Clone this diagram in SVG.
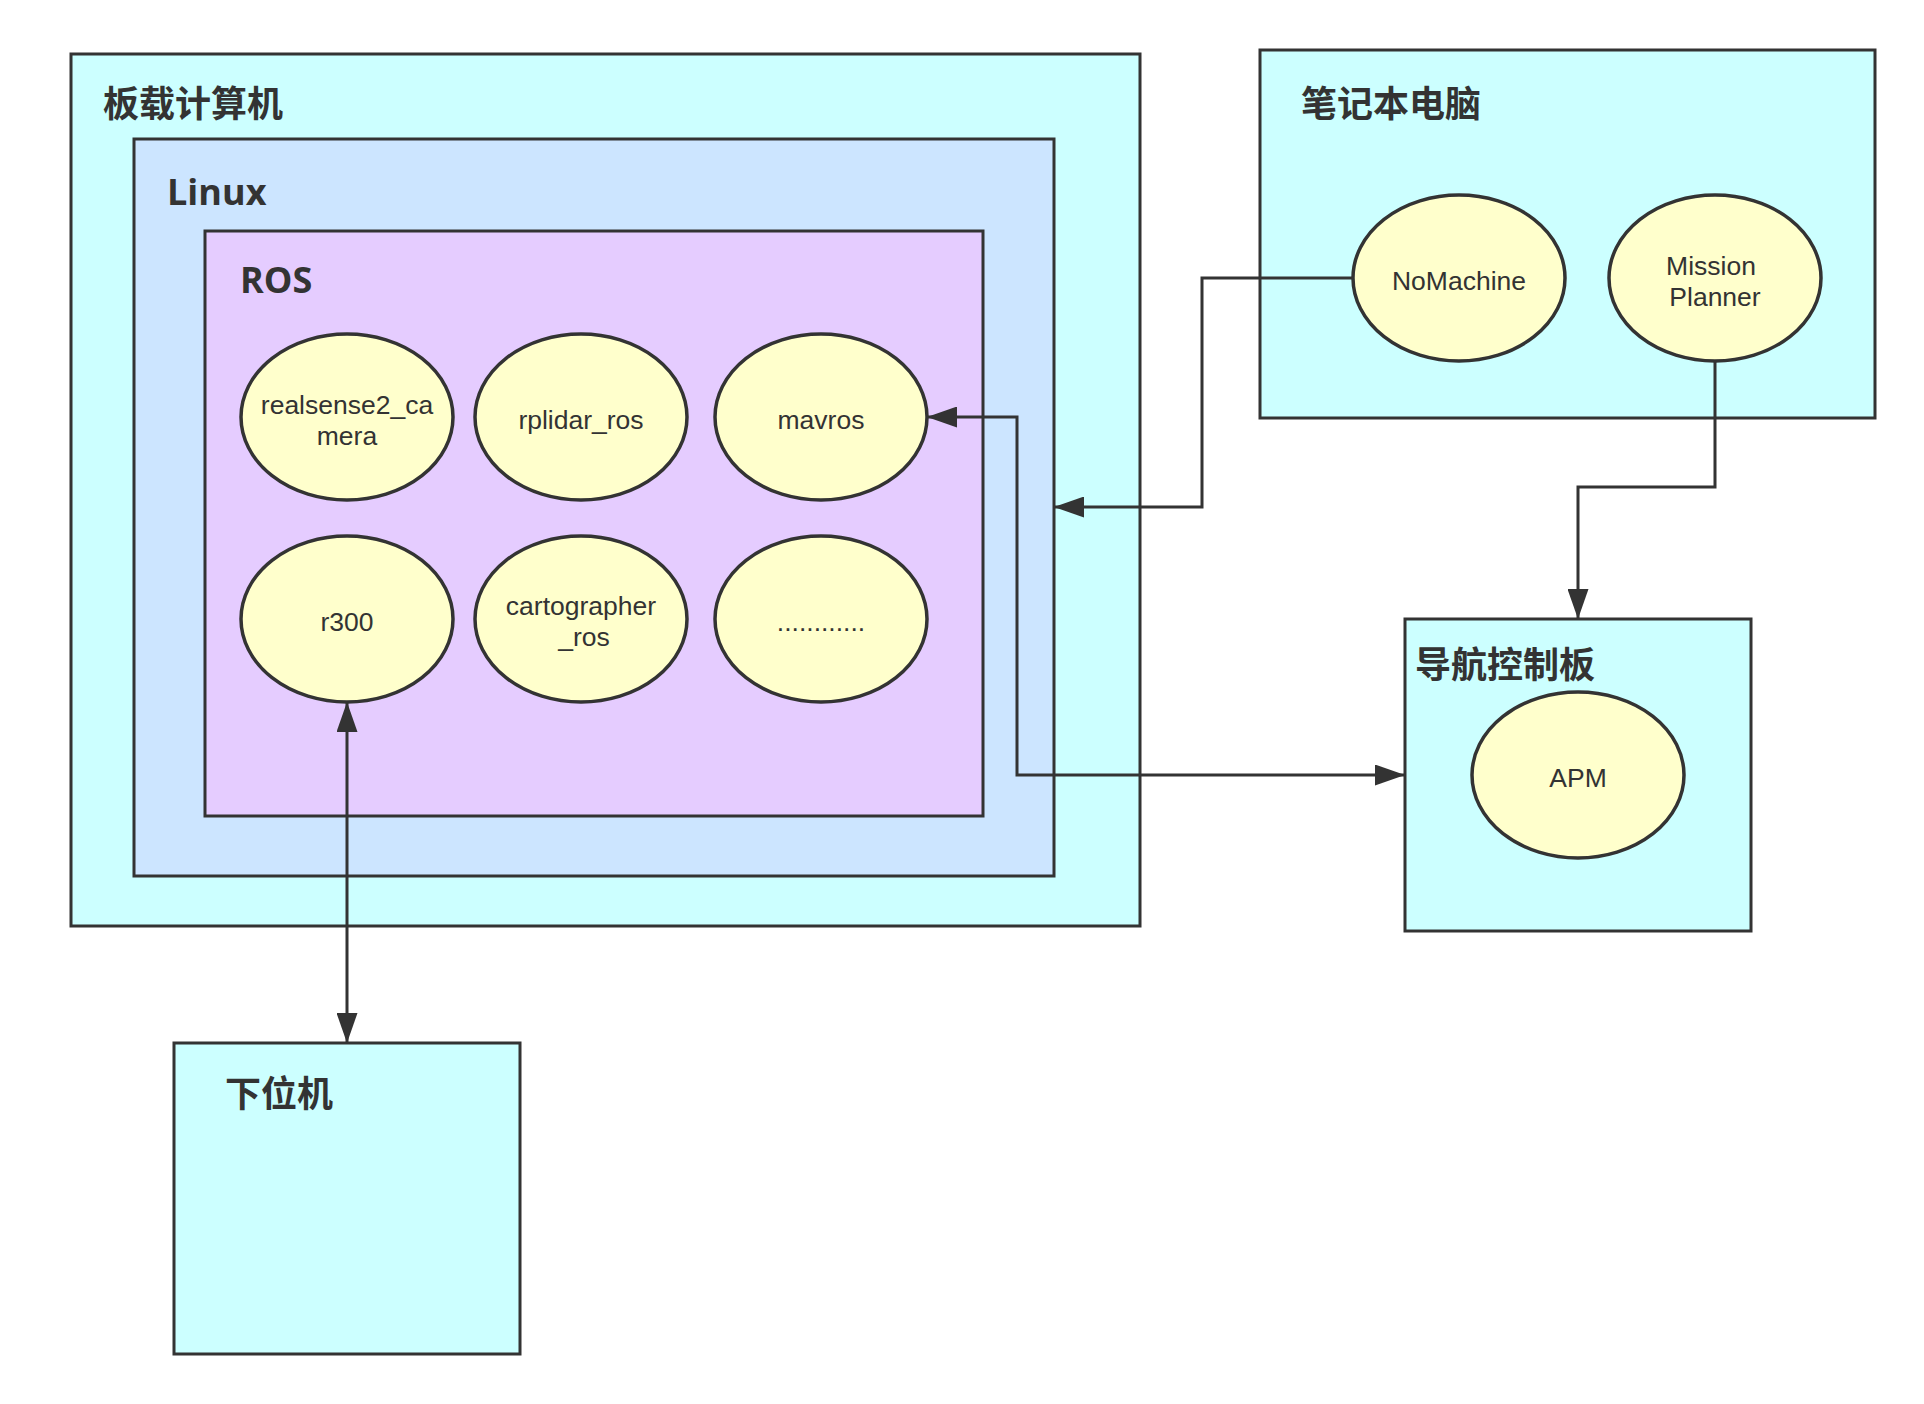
<svg xmlns="http://www.w3.org/2000/svg" width="1924" height="1404" viewBox="0 0 1924 1404">
<defs>
<style>
.box{stroke:#333333;stroke-width:3}
.cyan{fill:#CCFFFF}
.linux{fill:#CCE5FF}
.ros{fill:#E5CCFF}
.node{fill:#FFFFCC;stroke:#333333;stroke-width:3.5}
.title{font-family:"Open Sans","Noto Sans CJK SC",sans-serif;font-weight:bold;font-size:36px;fill:#333333}
.cjk{font-family:"Noto Sans CJK SC",sans-serif;font-weight:bold;font-size:36px;fill:#333333}
.lbl{font-family:"Liberation Sans",Arial,sans-serif;font-size:26.5px;fill:#333333;text-anchor:middle}
.edge{fill:none;stroke:#333333;stroke-width:3}
</style>
<marker id="arr" viewBox="0 0 30 21" refX="29" refY="10.5" markerWidth="30" markerHeight="21" markerUnits="userSpaceOnUse" orient="auto-start-reverse">
<path d="M0,0 L30,10.5 L0,21 Z" fill="#333333"/>
</marker>
</defs>
<rect width="1924" height="1404" fill="#FFFFFF"/>

<g id="onboard">
<rect class="box cyan" x="71" y="54" width="1069" height="872"/>
<text class="cjk" x="103" y="117">板载计算机</text>
</g>
<g id="linux">
<rect class="box linux" x="134" y="139" width="920" height="737"/>
<text class="title" x="167" y="205">Linux</text>
</g>
<g id="ros">
<rect class="box ros" x="205" y="231" width="778" height="585"/>
<text class="title" x="240" y="293">ROS</text>
</g>

<g id="realsense2_camera">
<ellipse class="node" cx="347" cy="417" rx="106" ry="83"/>
<text class="lbl"><tspan x="347" y="414">realsense2_ca</tspan><tspan x="347" y="445">mera</tspan></text>
</g>
<g id="rplidar_ros">
<ellipse class="node" cx="581" cy="417" rx="106" ry="83"/>
<text class="lbl" x="581" y="429">rplidar_ros</text>
</g>
<g id="mavros">
<ellipse class="node" cx="821" cy="417" rx="106" ry="83"/>
<text class="lbl" x="821" y="429">mavros</text>
</g>
<g id="r300">
<ellipse class="node" cx="347" cy="619" rx="106" ry="83"/>
<text class="lbl" x="347" y="631">r300</text>
</g>
<g id="cartographer_ros">
<ellipse class="node" cx="581" cy="619" rx="106" ry="83"/>
<text class="lbl"><tspan x="581" y="615">cartographer</tspan><tspan x="584" y="646">_ros</tspan></text>
</g>
<g id="more">
<ellipse class="node" cx="821" cy="619" rx="106" ry="83"/>
<text class="lbl" x="821" y="631">............</text>
</g>

<g id="laptop">
<rect class="box cyan" x="1260" y="50" width="615" height="368"/>
<text class="cjk" x="1301" y="117">笔记本电脑</text>
</g>
<g id="nomachine">
<ellipse class="node" cx="1459" cy="278" rx="106" ry="83"/>
<text class="lbl" x="1459" y="290">NoMachine</text>
</g>
<g id="missionplanner">
<ellipse class="node" cx="1715" cy="278" rx="106" ry="83"/>
<text class="lbl"><tspan x="1711" y="275">Mission</tspan><tspan x="1715" y="306">Planner</tspan></text>
</g>

<g id="navboard">
<rect class="box cyan" x="1405" y="619" width="346" height="312"/>
<text class="cjk" x="1415" y="678">导航控制板</text>
</g>
<g id="apm">
<ellipse class="node" cx="1578" cy="775" rx="106" ry="83"/>
<text class="lbl" x="1578" y="787">APM</text>
</g>

<g id="lower">
<rect class="box cyan" x="174" y="1043" width="346" height="311"/>
<text class="cjk" x="225" y="1107">下位机</text>
</g>

<g id="connectors">
<path class="edge" d="M1353 278 H1202 V507 H1055" marker-end="url(#arr)"/>
<path class="edge" d="M928 417 H1017 V775 H1404" marker-start="url(#arr)" marker-end="url(#arr)"/>
<path class="edge" d="M1715 361 V487 H1578 V618" marker-end="url(#arr)"/>
<path class="edge" d="M347 703 V1042" marker-start="url(#arr)" marker-end="url(#arr)"/>
</g>
</svg>
